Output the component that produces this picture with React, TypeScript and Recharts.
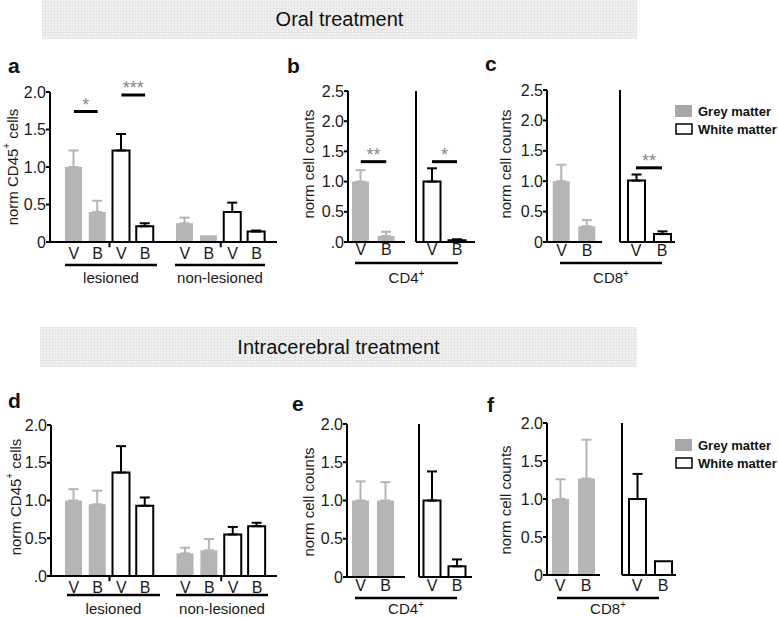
import { Bar, BarChart, ErrorBar, ReferenceLine, XAxis, YAxis } from 'recharts';

const GREY = '#b5b5b5';
const LEGEND_GREY = '#a8a8a8';
const FONT = '"Liberation Sans", Arial, Helvetica, sans-serif';

// labels under each pair of bars (vehicle / treated)
const pairLabels = ['V', 'B'];
const ticks20 = [0, 0.5, 1, 1.5, 2];
const ticks25 = [0, 0.5, 1, 1.5, 2, 2.5];

// a: oral, CD45+ cells
const aLesGrey = [1.0, 0.4];
const aLesGreyErr = [0.22, 0.15];
const aLesWhite = [1.22, 0.21];
const aLesWhiteErr = [0.22, 0.04];
const aNonGrey = [0.25, 0.09];
const aNonGreyErr = [0.075, 0];
const aNonWhite = [0.4, 0.14];
const aNonWhiteErr = [0.125, 0.013];

// b: oral, CD4+
const bGrey = [1.0, 0.1];
const bGreyErr = [0.19, 0.07];
const bWhite = [1.0, 0.03];
const bWhiteErr = [0.22, 0.015];

// c: oral, CD8+
const cGrey = [1.0, 0.26];
const cGreyErr = [0.27, 0.1];
const cWhite = [1.01, 0.13];
const cWhiteErr = [0.1, 0.045];

// d: intracerebral, CD45+ cells
const dLesGrey = [1.0, 0.95];
const dLesGreyErr = [0.15, 0.18];
const dLesWhite = [1.37, 0.93];
const dLesWhiteErr = [0.35, 0.11];
const dNonGrey = [0.3, 0.34];
const dNonGreyErr = [0.075, 0.15];
const dNonWhite = [0.55, 0.66];
const dNonWhiteErr = [0.1, 0.045];

// e: intracerebral, CD4+
const eGrey = [1.0, 1.0];
const eGreyErr = [0.25, 0.24];
const eWhite = [1.0, 0.14];
const eWhiteErr = [0.38, 0.09];

// f: intracerebral, CD8+
const fGrey = [1.0, 1.27];
const fGreyErr = [0.26, 0.51];
const fWhite = [1.0, 0.18];
const fWhiteErr = [0.33, 0];

type Row = { key: string; grey?: number; greyErr?: number[]; white?: number; whiteErr?: number[] };
type Sig = { from: string; to: string; y: number; stars: string };

function makeRows(grey: number[] | null, greyErr: number[] | null, white: number[] | null, whiteErr: number[] | null): Row[] {
  const out: Row[] = [];
  if (grey && greyErr) {
    grey.forEach((v, i) => out.push({ key: 'g' + pairLabels[i], grey: v, greyErr: greyErr[i] > 0 ? [0, greyErr[i]] : undefined }));
  }
  if (white && whiteErr) {
    white.forEach((v, i) => out.push({ key: 'w' + pairLabels[i], white: v, whiteErr: whiteErr[i] > 0 ? [0, whiteErr[i]] : undefined }));
  }
  return out;
}

const ML = 45;
const MT = 28;
const MR = 10;
const XH = 30;

type SubProps = {
  rows: Row[];
  axisX: number;
  x1: number;
  yTop: number;
  y0: number;
  max: number;
  zeroLabel?: string;
  yLabels?: boolean;
  yAxis?: boolean;
  padL: number;
  padR: number;
  tickGap: number;
  sig?: Sig[];
  divider?: boolean;
};

function SubChart(p: SubProps) {
  const w = p.x1 - p.axisX;
  const h = p.y0 - p.yTop;
  const axisStyle = { stroke: '#000', strokeWidth: 2 };
  const showAxis = p.yAxis !== false;
  return (
    <div style={{ position: 'absolute', left: p.axisX - ML, top: p.yTop - MT }}>
      <BarChart
        width={ML + w + MR}
        height={MT + h + XH}
        data={p.rows}
        margin={{ top: MT, right: MR, bottom: 0, left: 0 }}
        barSize={17}
      >
        <XAxis
          dataKey="key"
          type="category"
          height={XH}
          interval={0}
          axisLine={axisStyle}
          tickLine={false}
          tickSize={0}
          tickMargin={p.tickGap}
          padding={{ left: p.padL, right: p.padR }}
          tick={{ fontSize: 16, fill: '#1a1a1a' }}
          tickFormatter={(k: string) => k.slice(1)}
        />
        <YAxis
          type="number"
          domain={[0, p.max]}
          ticks={p.max > 2 ? ticks25 : ticks20}
          allowDataOverflow
          width={ML}
          axisLine={showAxis ? axisStyle : false}
          tickLine={showAxis ? axisStyle : false}
          tickSize={4}
          tickMargin={0}
          tick={showAxis && p.yLabels !== false ? { fontSize: 16, fill: '#1a1a1a' } : false}
          tickFormatter={(v: number) => (v === 0 ? p.zeroLabel ?? '0' : v.toFixed(1))}
        />
        <Bar dataKey="grey" stackId="s" fill={GREY} isAnimationActive={false}>
          <ErrorBar dataKey="greyErr" direction="y" width={5} strokeWidth={2} stroke={GREY} />
        </Bar>
        <Bar dataKey="white" stackId="s" fill="#fff" stroke="#000" strokeWidth={2} isAnimationActive={false}>
          <ErrorBar dataKey="whiteErr" direction="y" width={5} strokeWidth={2} stroke="#000" />
        </Bar>
        {p.divider && (
          <ReferenceLine
            segment={[{ x: 'gB', y: 0 }, { x: 'gB', y: -0.07 }]}
            position="end"
            ifOverflow="visible"
            stroke="#000"
            strokeWidth={2}
          />
        )}
        {(p.sig ?? []).map((s) => (
          <ReferenceLine
            key={s.from + s.stars}
            segment={[{ x: s.from, y: s.y }, { x: s.to, y: s.y }]}
            stroke="#000"
            strokeWidth={3}
            label={{ value: s.stars, position: 'top', fill: '#888', fontSize: 18, offset: 1 }}
          />
        ))}
      </BarChart>
    </div>
  );
}

function Banner({ top, left, width, height, text }: { top: number; left: number; width: number; height: number; text: string }) {
  return (
    <div
      style={{
        position: 'absolute', left, top, width, height,
        backgroundColor: '#f1f1f1',
        backgroundImage:
          'repeating-linear-gradient(0deg, #e6e6e6 0 1px, transparent 1px 3px), repeating-linear-gradient(90deg, #e6e6e6 0 1px, transparent 1px 3px)',
        display: 'flex', alignItems: 'center', justifyContent: 'center',
        fontSize: 20, color: '#111',
      }}
    >
      {text}
    </div>
  );
}

function YTitle({ x, y, cd }: { x: number; y: number; cd?: boolean }) {
  return (
    <text x={x} y={y} transform={`rotate(-90 ${x} ${y})`} textAnchor="middle" dominantBaseline="central" fontSize={15} fill="#1a1a1a">
      {cd ? (
        <>
          norm CD45<tspan fontSize={10} dy={-6}>+</tspan>
          <tspan dy={6}> cells</tspan>
        </>
      ) : (
        'norm cell counts'
      )}
    </text>
  );
}

function GroupLabel({ x1, x2, ly, ty, text, sup }: { x1: number; x2: number; ly: number; ty: number; text: string; sup?: boolean }) {
  return (
    <g>
      <line x1={x1} x2={x2} y1={ly} y2={ly} stroke="#000" strokeWidth={2.5} />
      <text x={(x1 + x2) / 2} y={ty} textAnchor="middle" fontSize={15} fill="#1a1a1a">
        {text}
        {sup && (
          <tspan fontSize={10} dy={-6}>+</tspan>
        )}
      </text>
    </g>
  );
}

function Legend({ y }: { y: number }) {
  return (
    <g fontWeight="bold" fontSize={13} fill="#111">
      <rect x={675} y={y} width={17} height={12} fill={LEGEND_GREY} />
      <text x={698} y={y + 6} dominantBaseline="central">Grey matter</text>
      <rect x={676} y={y + 19} width={16} height={10} fill="#fff" stroke="#000" strokeWidth={1.5} />
      <text x={698} y={y + 24} dominantBaseline="central">White matter</text>
    </g>
  );
}

export default function App() {
  return (
    <div style={{ position: 'absolute', left: 0, top: 0, width: 778, height: 617, background: '#fff', fontFamily: FONT }}>
      <Banner left={42} top={0} width={595} height={39} text="Oral treatment" />
      <Banner left={40} top={327} width={597} height={40} text="Intracerebral treatment" />

      {/* a */}
      <SubChart rows={makeRows(aLesGrey, aLesGreyErr, aLesWhite, aLesWhiteErr)} axisX={50} x1={165} yTop={92} y0={242} max={2}
        padL={12} padR={8} tickGap={6} divider
        sig={[{ from: 'gV', to: 'gB', y: 1.74, stars: '*' }, { from: 'wV', to: 'wB', y: 1.96, stars: '***' }]} />
      <SubChart rows={makeRows(aNonGrey, aNonGreyErr, aNonWhite, aNonWhiteErr)} axisX={165} x1={277} yTop={92} y0={242} max={2}
        yAxis={false} padL={8} padR={8.5} tickGap={6} divider />

      {/* b */}
      <SubChart rows={makeRows(bGrey, bGreyErr, null, null)} axisX={348} x1={405} yTop={91} y0={242} max={2.5} zeroLabel=".0"
        padL={0} padR={6} tickGap={2} sig={[{ from: 'gV', to: 'gB', y: 1.33, stars: '**' }]} />
      <SubChart rows={makeRows(null, null, bWhite, bWhiteErr)} axisX={416} x1={475} yTop={91} y0={242} max={2.5} yLabels={false}
        padL={3.5} padR={5.5} tickGap={2} sig={[{ from: 'wV', to: 'wB', y: 1.33, stars: '*' }]} />

      {/* c */}
      <SubChart rows={makeRows(cGrey, cGreyErr, null, null)} axisX={547} x1={602} yTop={90} y0={242} max={2.5}
        padL={1.75} padR={2.25} tickGap={3} />
      <SubChart rows={makeRows(null, null, cWhite, cWhiteErr)} axisX={620} x1={675} yTop={90} y0={242} max={2.5} yLabels={false}
        padL={3} padR={0} tickGap={3} sig={[{ from: 'wV', to: 'wB', y: 1.22, stars: '**' }]} />

      {/* d */}
      <SubChart rows={makeRows(dLesGrey, dLesGreyErr, dLesWhite, dLesWhiteErr)} axisX={51} x1={165} yTop={425} y0={576} max={2} zeroLabel=".0"
        padL={11} padR={8} tickGap={6} divider />
      <SubChart rows={makeRows(dNonGrey, dNonGreyErr, dNonWhite, dNonWhiteErr)} axisX={165} x1={277} yTop={425} y0={576} max={2}
        yAxis={false} padL={8.5} padR={8} tickGap={6} divider />

      {/* e */}
      <SubChart rows={makeRows(eGrey, eGreyErr, null, null)} axisX={347} x1={405} yTop={424} y0={577} max={2}
        padL={1} padR={7} tickGap={3} />
      <SubChart rows={makeRows(null, null, eWhite, eWhiteErr)} axisX={419} x1={472} yTop={424} y0={577} max={2} yLabels={false}
        padL={0.5} padR={2.5} tickGap={3} />

      {/* f */}
      <SubChart rows={makeRows(fGrey, fGreyErr, null, null)} axisX={547} x1={600} yTop={423} y0={575} max={2}
        padL={0} padR={1} tickGap={5} />
      <SubChart rows={makeRows(null, null, fWhite, fWhiteErr)} axisX={622} x1={676} yTop={423} y0={575} max={2} yLabels={false}
        padL={2} padR={0} tickGap={5} />

      <svg width={778} height={617} style={{ position: 'absolute', left: 0, top: 0, pointerEvents: 'none' }} fontFamily={FONT}>
        <g fontWeight="bold" fontSize={21} fill="#111">
          <text x={8} y={73}>a</text>
          <text x={287} y={73}>b</text>
          <text x={485} y={71}>c</text>
          <text x={8} y={408}>d</text>
          <text x={292} y={411}>e</text>
          <text x={487} y={412}>f</text>
        </g>
        <YTitle x={12} y={167} cd />
        <YTitle x={308} y={164} />
        <YTitle x={505} y={164} />
        <YTitle x={15} y={497} cd />
        <YTitle x={308} y={502} />
        <YTitle x={505} y={500} />

        <GroupLabel x1={65} x2={157} ly={265} ty={283} text="lesioned" />
        <GroupLabel x1={175} x2={265} ly={265} ty={283} text="non-lesioned" />
        <GroupLabel x1={355} x2={458} ly={263} ty={283} text="CD4" sup />
        <GroupLabel x1={560} x2={662} ly={263} ty={283} text="CD8" sup />
        <GroupLabel x1={67} x2={160} ly={595} ty={614} text="lesioned" />
        <GroupLabel x1={176} x2={268} ly={595} ty={614} text="non-lesioned" />
        <GroupLabel x1={355} x2={457} ly={598} ty={614} text="CD4" sup />
        <GroupLabel x1={557} x2={659} ly={598} ty={614} text="CD8" sup />

        <Legend y={105} />
        <Legend y={439} />
      </svg>
    </div>
  );
}
